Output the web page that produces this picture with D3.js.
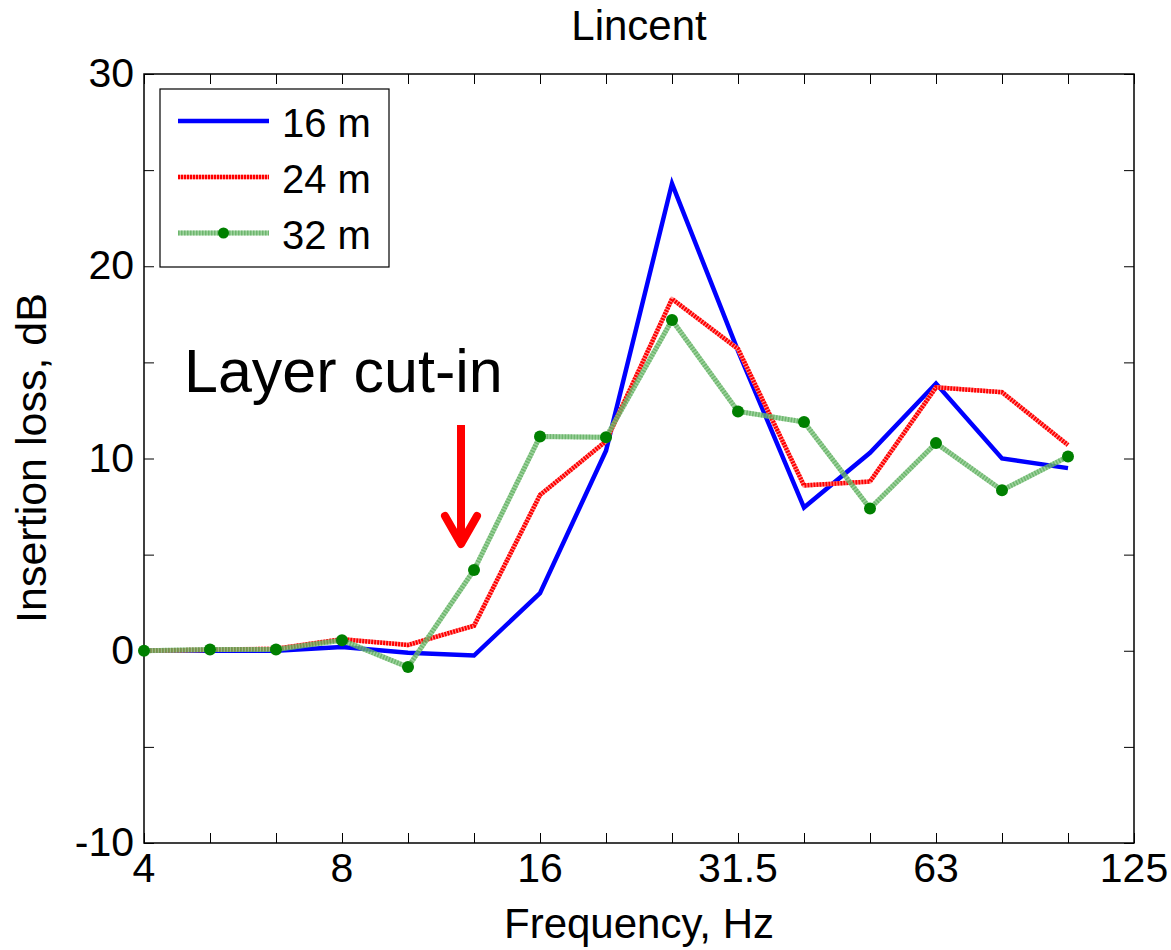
<!DOCTYPE html>
<html>
<head>
<meta charset="utf-8">
<script src="https://cdn.jsdelivr.net/npm/d3@7"></script>
<style>
  body { margin: 0; background: #fff; }
  text { font-family: Arial, "Liberation Sans", sans-serif; fill: #000; }
</style>
</head>
<body>
<script>
// Third-octave band index 0 = 4 Hz ... 15 = 125 Hz
const bandIndex = [0, 1, 2, 3, 4, 5, 6, 7, 8, 9, 10, 11, 12, 13, 14];
const xTickIndex = [0, 3, 6, 9, 12, 15];
const xTickLabels = ["4", "8", "16", "31.5", "63", "125"];
const yTicks = [-10, -5, 0, 5, 10, 15, 20, 25, 30];
const yTickLabels = ["-10", "", "0", "", "10", "", "20", "", "30"];

const loss16 = [0, 0, 0, 0.2, -0.1, -0.25, 3.0, 10.4, 24.3, 15.6, 7.45, 10.3, 13.9, 10.0, 9.5];
const loss24 = [0, 0.05, 0.1, 0.6, 0.3, 1.3, 8.1, 10.9, 18.3, 15.7, 8.6, 8.8, 13.7, 13.45, 10.7];
const loss32 = [0, 0.07, 0.07, 0.55, -0.85, 4.2, 11.15, 11.1, 17.2, 12.45, 11.9, 7.4, 10.8, 8.35, 10.1];
const seriesNames = ["16 m", "24 m", "32 m"];

const W = 1171, H = 950;
const m = { left: 144, right: 1134, top: 74, bottom: 843 };

const svg = d3.select("body").append("svg").attr("width", W).attr("height", H);

const x = d3.scaleLinear().domain([0, 15]).range([m.left, m.right]);
const y = d3.scaleLinear().domain([-10, 30]).range([m.bottom, m.top]);

// Title
svg.append("text").attr("x", (m.left + m.right) / 2).attr("y", 40)
  .attr("text-anchor", "middle").attr("font-size", 42).text("Lincent");

// Frame
svg.append("rect").attr("x", m.left).attr("y", m.top)
  .attr("width", m.right - m.left).attr("height", m.bottom - m.top)
  .attr("fill", "none").attr("stroke", "#000").attr("stroke-width", 1.5);

const allBands = d3.range(0, 16);
const tickLen = 10;

// Inward ticks on all four sides
const xAxisB = d3.axisBottom(x).tickValues(allBands).tickSize(-tickLen).tickFormat(() => "");
const gxb = svg.append("g").attr("transform", `translate(0,${m.bottom})`).call(xAxisB);
const xAxisT = d3.axisTop(x).tickValues(allBands).tickSize(-tickLen).tickFormat(() => "");
const gxt = svg.append("g").attr("transform", `translate(0,${m.top})`).call(xAxisT);
const yAxisL = d3.axisLeft(y).tickValues(yTicks).tickSize(-tickLen).tickFormat(() => "");
const gyl = svg.append("g").attr("transform", `translate(${m.left},0)`).call(yAxisL);
const yAxisR = d3.axisRight(y).tickValues(yTicks).tickSize(-tickLen).tickFormat(() => "");
const gyr = svg.append("g").attr("transform", `translate(${m.right},0)`).call(yAxisR);
[gxb, gxt, gyl, gyr].forEach(g => {
  g.select(".domain").remove();
  g.selectAll(".tick line").attr("stroke", "#000").attr("stroke-width", 1);
});

// X tick labels
xTickIndex.forEach((d, i) => {
  svg.append("text").attr("x", x(d)).attr("y", 882)
    .attr("text-anchor", "middle").attr("font-size", 41).text(xTickLabels[i]);
});
// Y tick labels
yTicks.forEach((d, i) => {
  if (!yTickLabels[i]) return;
  svg.append("text").attr("x", m.left - 10).attr("y", y(d) + 13)
    .attr("text-anchor", "end").attr("font-size", 41).text(yTickLabels[i]);
});

// Axis titles
svg.append("text").attr("x", (m.left + m.right) / 2).attr("y", 938)
  .attr("text-anchor", "middle").attr("font-size", 42).text("Frequency, Hz");
svg.append("text")
  .attr("transform", `translate(${46},${458}) rotate(-90)`)
  .attr("text-anchor", "middle").attr("font-size", 43).text("Insertion loss, dB");

const line = d3.line().x((d, i) => x(bandIndex[i])).y(d => y(d));
const plot = svg.append("g");

// 32 m: translucent green band with dotted core and markers
function drawGreen(g, path) {
  g.append("path").attr("d", path).attr("fill", "none")
    .attr("stroke", "#7cc47c").attr("stroke-opacity", 0.75).attr("stroke-width", 5)
    .attr("stroke-linejoin", "round");
  g.append("path").attr("d", path).attr("fill", "none")
    .attr("stroke", "#3f9a3f").attr("stroke-opacity", 0.5).attr("stroke-width", 5)
    .attr("stroke-dasharray", "1.5,1.5");
}
// 24 m: red dotted
function drawRed(g, path) {
  g.append("path").attr("d", path).attr("fill", "none")
    .attr("stroke", "#ff9a9a").attr("stroke-width", 4.5).attr("stroke-linejoin", "round");
  g.append("path").attr("d", path).attr("fill", "none")
    .attr("stroke", "#ff0000").attr("stroke-width", 4.5).attr("stroke-dasharray", "2,1");
}
function drawBlue(g, path) {
  g.append("path").attr("d", path).attr("fill", "none")
    .attr("stroke", "#0000ff").attr("stroke-width", 4.5).attr("stroke-linejoin", "miter");
}

drawBlue(plot, line(loss16));
drawRed(plot, line(loss24));
drawGreen(plot, line(loss32));
plot.selectAll("circle.m32").data(loss32).join("circle").attr("class", "m32")
  .attr("cx", (d, i) => x(bandIndex[i])).attr("cy", d => y(d)).attr("r", 6)
  .attr("fill", "#008000");

// Annotation
svg.append("text").attr("x", 184).attr("y", 392).attr("font-size", 61).text("Layer cut-in");
const ax = 461;
svg.append("line").attr("x1", ax).attr("y1", 425).attr("x2", ax).attr("y2", 540)
  .attr("stroke", "#ff0000").attr("stroke-width", 8);
svg.append("path").attr("d", `M${ax - 16},${516} L${ax},${544} L${ax + 16},${516}`)
  .attr("fill", "none").attr("stroke", "#ff0000").attr("stroke-width", 8)
  .attr("stroke-linecap", "round").attr("stroke-linejoin", "round");

// Legend
const lg = svg.append("g");
lg.append("rect").attr("x", 160).attr("y", 89).attr("width", 229).attr("height", 178)
  .attr("fill", "#fff").attr("stroke", "#000").attr("stroke-width", 1.2);
const rows = [121, 177, 233];
const lx1 = 178, lx2 = 269;
drawBlue(lg, `M${lx1},${rows[0]}L${lx2},${rows[0]}`);
drawRed(lg, `M${lx1},${rows[1]}L${lx2},${rows[1]}`);
drawGreen(lg, `M${lx1},${rows[2]}L${lx2},${rows[2]}`);
lg.append("circle").attr("cx", (lx1 + lx2) / 2).attr("cy", rows[2]).attr("r", 5.5).attr("fill", "#008000");
seriesNames.forEach((n, i) => {
  lg.append("text").attr("x", 282).attr("y", rows[i] + 16).attr("font-size", 40).text(n);
});
</script>
</body>
</html>
